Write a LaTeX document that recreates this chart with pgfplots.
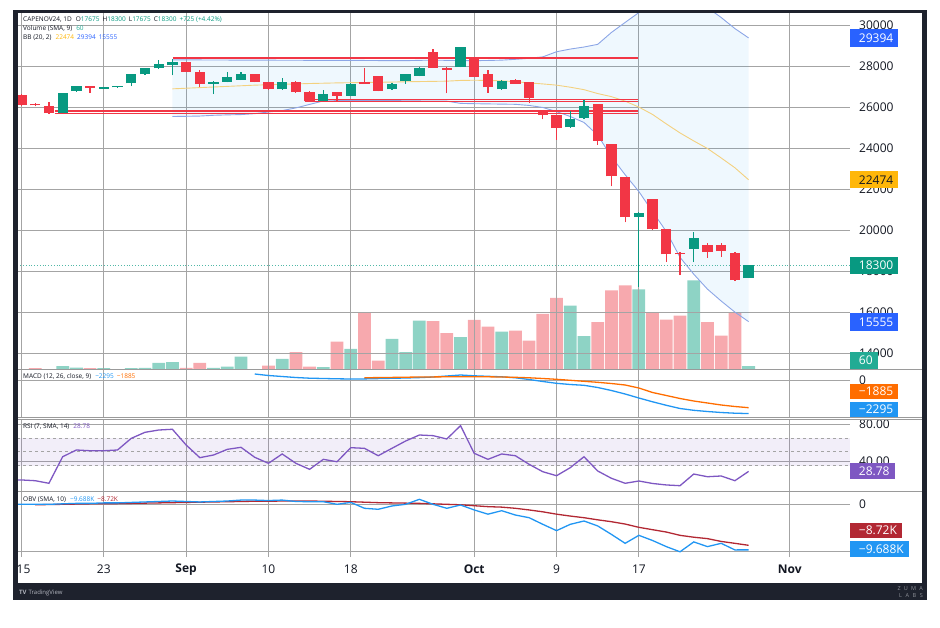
\documentclass[border=0pt]{standalone}
\usepackage{pgfplots}
\pgfplotsset{compat=1.18}
\usepackage{pgfplotstable}
\usepgfplotslibrary{fillbetween}
\usepackage{fontspec}
\setmainfont{Open Sans}
\definecolor{frameC}{HTML}{1E222D}
\definecolor{gridC}{HTML}{A4A4A4}
\definecolor{sepC}{HTML}{9A9A9A}
\definecolor{tvText}{HTML}{131722}
\definecolor{cRed}{HTML}{F23645}
\definecolor{cGreen}{HTML}{089981}
\definecolor{volPink}{HTML}{F7A9AE}
\definecolor{volGreen}{HTML}{8ED3C5}
\definecolor{bbLine}{HTML}{8CA6E6}
\definecolor{bbFillC}{HTML}{2196F3}
\definecolor{bbMid}{HTML}{F3D17F}
\definecolor{bbBox}{HTML}{FFB70A}
\definecolor{boxBlue}{HTML}{2962FF}
\definecolor{macdBlue}{HTML}{2196F3}
\definecolor{macdOrange}{HTML}{FF6D00}
\definecolor{rsiPurple}{HTML}{7E57C2}
\definecolor{obvRed}{HTML}{B22833}
\definecolor{volBox}{HTML}{22AB94}
\definecolor{tvGray}{HTML}{B2B5BE}

\newcommand{\hdr}{\fontsize{6.5}{8}\selectfont}
\newcommand{\lbl}{\fontsize{12}{14}\selectfont}
\newcommand{\mn}{\char"2212\relax}

% up candles
\pgfplotstableread{
i o h l c
3 25730 26720 25720 26700
4 26800 27060 26780 27040
6 26910 27000 26900 26980
7 26980 27010 26970 27000
8 27180 27640 27040 27620
9 27620 27930 27600 27910
10 27910 28300 27890 28100
11 28060 28350 27570 28200
14 27170 27270 26650 27250
15 27250 27730 27230 27490
16 27360 27730 27340 27610
19 26890 27430 26870 27250
22 26330 26850 26310 26680
24 26570 27190 26550 27170
27 26890 27190 26870 27170
28 27280 27630 27170 27610
29 27540 27970 27520 27950
32 27980 28970 27960 28950
35 26880 27320 26860 27300
40 25030 25840 25010 25420
41 25470 26360 25450 26070
45 20650 20880 17250 20860
49 19110 19920 18460 19650
53 17675 18300 17675 18300
}\upc
% down candles
\pgfplotstableread{
i o h l c
0 26600 26650 26080 26120
1 26150 26200 26050 26100
2 26070 26280 25700 25730
5 27040 27060 26700 26940
12 28200 28220 27720 27750
13 27730 27810 27000 27140
17 27610 27630 27230 27250
18 27220 27240 26870 26890
20 27250 27270 26730 26750
21 26780 26800 26280 26300
23 26750 26770 26330 26570
25 27250 27950 27150 27170
26 27520 27540 26790 26810
30 28700 28870 27930 27950
31 27950 27970 26690 27850
33 28460 28480 27470 27490
34 27610 27850 26710 26980
36 27330 27410 27150 27170
37 27220 27240 26230 26470
38 25790 25810 25420 25630
39 25630 25650 24420 24990
42 26150 26170 24180 24370
43 24210 24230 22150 22640
44 22590 22610 20400 20650
46 21540 21560 20030 20050
47 20050 20070 18460 18840
48 18860 18930 17820 18840
50 19270 19400 18680 18950
51 19270 19400 18720 18990
52 18920 18940 17555 17575
}\dnc
% volume
\pgfplotstableread{
i v
3 59
4 36
6 23
7 5
8 23
9 31
10 121
11 131
14 31
15 54
16 234
19 193
22 41
24 373
27 553
28 311
29 882
32 581
35 684
40 1152
41 599
45 1440
49 1602
53 60
}\volup
\pgfplotstableread{
i v
0 9
1 23
2 9
5 23
12 31
13 121
17 5
18 72
20 311
21 54
23 504
25 1021
26 162
30 869
31 653
33 895
34 774
36 702
37 522
38 1003
39 1291
42 851
43 1422
44 1512
46 1021
47 900
48 972
50 851
51 612
52 1021
}\voldn
% Bollinger bands (20,2)
\pgfplotstableread{
i u m l
11 28320 26910 25560
12 28320 26940 25570
13 28320 26970 25583
14 28315 27000 25620
15 28315 27030 25640
16 28310 27060 25655
17 28310 27090 25700
18 28310 27110 25780
19 28305 27130 25850
20 28305 27150 25980
21 28300 27170 26150
22 28300 27185 26320
23 28300 27200 26335
24 28295 27210 26335
25 28295 27220 26335
26 28290 27230 26335
27 28285 27240 26335
28 28285 27255 26330
29 28300 27265 26320
30 28310 27275 26315
31 28300 27285 26310
32 28290 27320 26200
33 28285 27330 26185
34 28295 27320 26175
35 28310 27300 26165
36 28350 27260 26155
37 28400 27200 26100
38 28470 27150 26000
39 28720 27090 25800
40 28850 26990 25560
41 28950 26870 25270
42 29080 26680 24650
43 29660 26530 23600
44 30150 26310 22720
45 30630 26020 21900
46 30970 25660 20920
47 31160 25200 19950
48 31210 24760 18690
49 31120 24370 17870
50 30870 24000 17140
51 30390 23540 16560
52 29850 23060 16020
53 29394 22474 15555
}\bb
% MACD line
\pgfplotstableread{
i v
17 468
18 363
19 293
20 223
21 175
22 154
23 133
24 119
25 126
26 147
27 168
28 189
29 216
30 258
31 328
32 398
33 342
34 307
35 272
36 203
37 84
38 -56
39 -182
40 -265
41 -321
42 -475
43 -684
44 -929
45 -1208
46 -1473
47 -1718
48 -1941
49 -2067
50 -2151
51 -2221
52 -2269
53 -2295
}\macd
% MACD signal
\pgfplotstableread{
i v
25 209
26 216
27 230
28 244
29 258
30 265
31 272
32 279
33 279
34 272
35 258
36 237
37 203
38 154
39 98
40 28
41 -42
42 -112
43 -196
44 -300
45 -510
46 -824
47 -1033
48 -1243
49 -1418
50 -1557
51 -1697
52 -1802
53 -1885
}\sig
% RSI
\pgfplotstableread{
i v
-1 19.5
0 19.5
1 18.7
2 15.9
3 44.6
4 51.9
5 51.1
6 51.1
7 51.9
8 64.5
9 71.0
10 73.5
11 74.3
12 57.3
13 43.6
14 46.5
15 52.6
16 54.8
17 44.0
18 37.5
19 47.6
20 37.5
21 31.0
22 41.8
23 39.2
24 54.4
25 53.7
26 45.7
27 53.7
28 61.6
29 68.1
30 67.4
31 63.8
32 78.2
33 48.3
34 41.8
35 47.6
36 45.7
37 36.4
38 28.4
39 24.1
40 32.8
41 44.6
42 29.2
43 21.3
44 15.9
45 18.4
46 15.7
47 14.1
48 13.3
49 25.9
50 23.0
51 23.8
52 18.7
53 28.78
}\rsi
% OBV (thousands)
\pgfplotstableread{
i v
-1 0
0 0
1 0
2 0
3 0.1
4 0.2
5 0.2
6 0.3
7 0.3
8 0.4
9 0.5
10 0.6
11 0.7
12 0.6
13 0.5
14 0.6
15 0.7
16 0.9
17 0.9
18 0.8
19 0.9
20 0.6
21 0.55
22 0.55
23 0.0
24 0.4
25 -0.85
26 -1.06
27 -0.36
28 0.0
29 1.06
30 0.0
31 -0.85
32 -0.15
33 -1.2
34 -2.1
35 -1.36
36 -2.28
37 -2.85
38 -4.26
39 -5.6
40 -4.26
41 -3.55
42 -4.6
43 -6.4
44 -8.3
45 -6.6
46 -7.7
47 -9.0
48 -10.1
49 -8.0
50 -9.0
51 -8.3
52 -9.7
53 -9.688
}\obv
\pgfplotstableread{
i v
1 -0.1
2 -0.05
3 0
4 0.05
5 0.1
6 0.1
7 0.15
8 0.2
9 0.25
10 0.3
11 0.35
12 0.4
13 0.45
14 0.5
15 0.55
16 0.6
17 0.65
18 0.65
19 0.7
20 0.7
21 0.7
22 0.65
23 0.6
24 0.55
25 0.45
26 0.35
27 0.3
28 0.25
29 0.2
30 0.1
31 0.0
32 -0.1
33 -0.3
34 -0.5
35 -0.6
36 -0.85
37 -1.2
38 -1.6
39 -2.1
40 -2.5
41 -2.85
42 -3.3
43 -3.7
44 -4.2
45 -4.9
46 -5.4
47 -5.9
48 -6.6
49 -7.0
50 -7.3
51 -7.9
52 -8.3
53 -8.72
}\obvma

\pgfplotsset{
  pane/.style={scale only axis, width=832pt, anchor=north west,
    xmin=-0.255, xmax=60.39,
    scaled y ticks=false, scaled x ticks=false,
    axis line style={draw=none}, major tick length=0pt, minor tick length=0pt,
    xtick={0,6,12,18,24,33,39,45,56}, xticklabels={},
    xmajorgrids, ymajorgrids,
    major grid style={draw=gridC, line width=0.9pt},
    yticklabel pos=right,
    yticklabel style={anchor=west, inner sep=0pt, xshift=9pt, font=\lbl, text=tvText},
  },
}

\newcommand{\pbox}[5]{\node[anchor=west, fill=#2, text=#3, inner sep=0pt, minimum height=#5pt, font=\lbl] at (850pt,-#1pt) {\hspace*{8.7pt}#4\hspace*{5pt}};}

\begin{document}
\begin{tikzpicture}
\path (0pt,0pt) rectangle (940pt,-627pt);

% volume
\begin{axis}[pane, at={(18pt,-12.7pt)}, height=356.8pt, ymin=0, ymax=6422, hide axis, set layers]
\addplot[on layer=axis background, ybar, bar width=0.93, bar shift=0pt, fill=volGreen, draw=none] table[x=i,y=v]{\volup};
\addplot[on layer=axis background, ybar, bar width=0.93, bar shift=0pt, fill=volPink, draw=none] table[x=i,y=v]{\voldn};
\end{axis}

% price
\begin{axis}[pane, at={(18pt,-12.7pt)}, height=356.8pt, ymin=13220, ymax=30624,
  ytick={14000,16000,18000,20000,22000,24000,26000,28000,30000},
  yticklabels={14000,16000,18000,20000,22000,24000,26000,28000,30000}]
\addplot[name path=bbU, draw=bbLine, line width=0.9pt] table[x=i,y=u]{\bb};
\addplot[name path=bbL, draw=bbLine, line width=0.9pt] table[x=i,y=l]{\bb};
\addplot[fill=bbFillC, fill opacity=0.07, draw=none] fill between[of=bbU and bbL];
\addplot[draw=bbMid, line width=0.9pt] table[x=i,y=m]{\bb};
\addplot[draw=cRed, line width=1.8pt] coordinates {(11.04,28430) (44.93,28430)};
\addplot[draw=cRed, line width=1.6pt] coordinates {(20.66,26390) (44.93,26390)};
\addplot[draw=cRed, line width=1.6pt] coordinates {(20.66,26290) (44.93,26290)};
\addplot[draw=cRed, line width=1.3pt] coordinates {(2.44,25830) (44.93,25830)};
\addplot[draw=cRed, line width=1.3pt] coordinates {(2.44,25720) (44.93,25720)};
\addplot[cGreen!70, dotted, line width=0.8pt] coordinates {(-0.3,18300) (60.4,18300)};
% wicks
\addplot[draw=none, mark=none, error bars/.cd, y dir=plus, y explicit, error mark=none,
  error bar style={line width=1.2pt, draw=cGreen}]
  table[x=i, y=l, y error plus expr={\thisrow{h}-\thisrow{l}}, y error minus expr={0}]{\upc};
\addplot[draw=none, mark=none, error bars/.cd, y dir=plus, y explicit, error mark=none,
  error bar style={line width=1.2pt, draw=cRed}]
  table[x=i, y=l, y error plus expr={\thisrow{h}-\thisrow{l}}, y error minus expr={0}]{\dnc};
% bodies
\addplot[draw=none, mark=none, error bars/.cd, y dir=plus, y explicit, error mark=none,
  error bar style={line width=10.3pt, draw=cGreen}]
  table[x=i, y=o, y error plus expr={max(\thisrow{c}-\thisrow{o},70)}, y error minus expr={0}]{\upc};
\addplot[draw=none, mark=none, error bars/.cd, y dir=plus, y explicit, error mark=none,
  error bar style={line width=10.3pt, draw=cRed}]
  table[x=i, y=c, y error plus expr={max(\thisrow{o}-\thisrow{c},70)}, y error minus expr={0}]{\dnc};
\end{axis}

% MACD
\begin{axis}[pane, at={(18pt,-369.5pt)}, height=47.5pt, ymin=-2535, ymax=782,
  ytick={0}, yticklabels={0}]
\addplot[macdBlue, line width=1.3pt] table[x=i,y=v]{\macd};
\addplot[macdOrange, line width=1.3pt] table[x=i,y=v]{\sig};
\end{axis}

% RSI
\begin{axis}[pane, at={(18pt,-419pt)}, height=72.7pt, ymin=6.8, ymax=85.4,
  ytick={40,80}, yticklabels={40.00,80.00}]
\addplot[name path=r1, draw=gridC, dashed, line width=0.6pt] coordinates {(-0.3,65) (60.4,65)};
\addplot[name path=r3, draw=gridC, dashed, line width=0.6pt] coordinates {(-0.3,35) (60.4,35)};
\addplot[draw=gridC, dashed, line width=0.6pt] coordinates {(-0.3,50) (60.4,50)};
\addplot[fill=rsiPurple, fill opacity=0.1, draw=none] fill between[of=r1 and r3];
\addplot[rsiPurple, line width=1.3pt] table[x=i,y=v]{\rsi};
\end{axis}

% OBV
\begin{axis}[pane, at={(18pt,-491.7pt)}, height=65.3pt, ymin=-11.21, ymax=2.68,
  ytick={0}, yticklabels={0}, extra y ticks={-10}, extra y tick labels={},
  extra y tick style={grid=major},
  xticklabels={\hspace*{4pt}15,23,\textbf{Sep},10,18,\textbf{Oct},9,17,\textbf{Nov}},
  xticklabel style={anchor=center, inner sep=0pt, yshift=-12.5pt, font=\lbl, text=tvText}]
\addplot[obvRed, line width=1.3pt] table[x=i,y=v]{\obvma};
\addplot[macdBlue, line width=1.3pt] table[x=i,y=v]{\obv};
\end{axis}

% pane separators
\draw[sepC, line width=0.9pt] (18pt,-369.5pt) -- (922pt,-369.5pt);
\draw[sepC, line width=0.9pt] (18pt,-417pt) -- (922pt,-417pt);
\draw[sepC, line width=0.9pt] (18pt,-419pt) -- (922pt,-419pt);
\draw[sepC, line width=0.9pt] (18pt,-491.7pt) -- (922pt,-491.7pt);

% headers
\node[anchor=west, inner sep=0pt, font=\hdr, text=tvText] at (23pt,-20pt)
 {CAPENOV24, 1D\hspace{4pt}O\textcolor{cGreen}{17675}\hspace{3pt}H\textcolor{cGreen}{18300}\hspace{3pt}L\textcolor{cGreen}{17675}\hspace{3pt}C\textcolor{cGreen}{18300}\hspace{3pt}\textcolor{cGreen}{+725 (+4.42\%)}};
\node[anchor=west, inner sep=0pt, font=\hdr, text=tvText] at (23pt,-29pt)
 {Volume (SMA, 9)\hspace{4pt}\textcolor{volBox}{60}};
\node[anchor=west, inner sep=0pt, font=\hdr, text=tvText] at (23pt,-37.8pt)
 {BB (20, 2)\hspace{4pt}\textcolor{bbBox}{22474}\hspace{3pt}\textcolor{boxBlue}{29394}\hspace{3pt}\textcolor{boxBlue}{15555}};
\node[anchor=west, inner sep=0pt, font=\hdr, text=tvText] at (23pt,-376.7pt)
 {MACD (12, 26, close, 9)\hspace{4pt}\textcolor{macdBlue}{\mn 2295}\hspace{3pt}\textcolor{macdOrange}{\mn 1885}};
\node[anchor=west, inner sep=0pt, font=\hdr, text=tvText] at (23pt,-426.5pt)
 {RSI (7, SMA, 14)\hspace{4pt}\textcolor{rsiPurple}{28.78}};
\node[anchor=west, inner sep=0pt, font=\hdr, text=tvText] at (23pt,-500pt)
 {OBV (SMA, 10)\hspace{4pt}\textcolor{macdBlue}{\mn 9.688K}\hspace{3pt}\textcolor{obvRed}{\mn 8.72K}};

% price scale boxes
\pbox{38}{boxBlue}{white}{29394}{17.4}
\pbox{179.7}{bbBox}{tvText}{22474}{17.4}
\pbox{265.5}{cGreen}{white}{18300}{17.4}
\pbox{322}{boxBlue}{white}{15555}{17.4}
\pbox{360}{volBox}{white}{60}{17}
\pbox{391.7}{macdOrange}{white}{\mn 1885}{15.4}
\pbox{409.5}{macdBlue}{white}{\mn 2295}{15.6}
\pbox{471}{rsiPurple}{white}{28.78}{16.6}
\pbox{530.5}{obvRed}{white}{\mn 8.72K}{15.6}
\pbox{549}{macdBlue}{white}{\mn 9.688K}{16.6}

% frame
\fill[frameC] (13pt,-9.5pt) rectangle (927pt,-12.7pt);
\fill[frameC] (13pt,-9.5pt) rectangle (18pt,-600pt);
\fill[frameC] (922pt,-9.5pt) rectangle (927pt,-600pt);
\fill[frameC] (13pt,-583pt) rectangle (927pt,-600pt);
\node[anchor=west, inner sep=0pt, text=tvGray, font=\fontsize{6}{7}\selectfont] at (19pt,-592.5pt) {\textbf{TV}\hspace{2pt}TradingView};
\node[anchor=east, inner sep=0pt, text=tvGray!80!black, font=\fontsize{5.5}{6}\selectfont] at (923pt,-588.3pt) {Z\hspace{3.2pt}U\hspace{3.2pt}M\hspace{3.2pt}A};
\node[anchor=east, inner sep=0pt, text=tvGray!80!black, font=\fontsize{5.5}{6}\selectfont] at (923pt,-595.7pt) {L\hspace{3.6pt}A\hspace{3.6pt}B\hspace{3.6pt}S};
\end{tikzpicture}
\end{document}
